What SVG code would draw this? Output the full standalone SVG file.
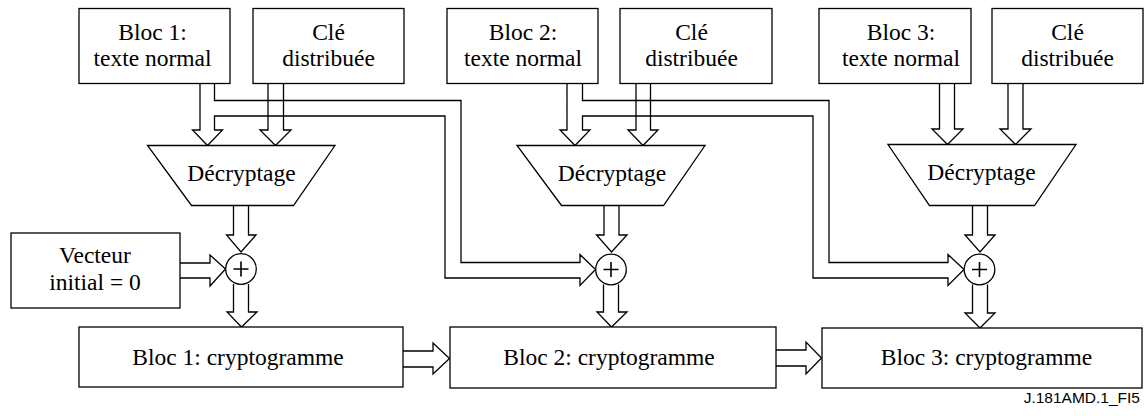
<svg xmlns="http://www.w3.org/2000/svg" width="1147" height="416" viewBox="0 0 1147 416">
<style>
.b{fill:#fff;stroke:#000;stroke-width:1.3}
.c{fill:none;stroke:#000;stroke-width:1.3;stroke-linejoin:miter}
.t{font-family:"Liberation Serif","Times New Roman",serif;font-size:23.5px;fill:#000;text-anchor:middle}
.p{stroke:#000;stroke-width:1.6;fill:none}
</style>
<rect width="1147" height="416" fill="#fff"/>
<g id="connectors">
<path class="c" d="M200,83.5V130H192.5L207.5,145.5L222.5,130H214.5V116H445V278H580V285.5L595.5,269.5L580,254.5V262.5H461V100.5H214.5V83.5"/>
<path class="c" d="M567,83.5V130H560L575,145.5L590,130H582.5V116H813V278H948V285.5L964,269.5L948,254.5V262.5H829V100.5H582.5V83.5"/>
<path class="c" d="M939.5,83.5V129H932L947.5,144.5L963,129H954.5V83.5"/>
<path class="c" d="M268,83.5V130H260L275.5,145.5L291,130H283.5V83.5"/>
<path class="c" d="M636,83.5V130H628L643,145.5L658,130H650.5V83.5"/>
<path class="c" d="M1008,83.5V129H1000L1015.5,144.5L1031,129H1023V83.5"/>
<path class="c" d="M233.5,205.5V235H226.5L241,252L256,235H248.5V205.5"/>
<path class="c" d="M604,205.5V235H596.5L611.5,252L627,235H619V205.5"/>
<path class="c" d="M972.5,205.5V235H965L980,252L995,235H987.5V205.5"/>
<path class="c" d="M233.5,284V312H227L241.5,327L257,312H248.5V284"/>
<path class="c" d="M603.5,284.5V312H597L611.5,327L627,312H618.5V284.5"/>
<path class="c" d="M972.5,284.5V313H965L980,328L995,313H987.5V284.5"/>
<path class="c" d="M180,263H210V255L225.5,269L210,286V278H180"/>
<path class="c" d="M403,351H433V343L449.5,358.5L433,374V367H403"/>
<path class="c" d="M776,350H806V342L821.5,358L806,374V366H776"/>
</g>
<g id="b1-texte"><rect class="b" x="79" y="8.5" width="151" height="75"/><text class="t" x="152.5" y="40">Bloc 1:</text><text class="t" x="152.5" y="66">texte normal</text></g>
<g id="b1-cle"><rect class="b" x="253" y="8.5" width="151" height="75"/><text class="t" x="328.5" y="40">Clé</text><text class="t" x="328.5" y="66">distribuée</text></g>
<g id="b2-texte"><rect class="b" x="447" y="8.5" width="151" height="75"/><text class="t" x="523" y="40">Bloc 2:</text><text class="t" x="523" y="66">texte normal</text></g>
<g id="b2-cle"><rect class="b" x="620" y="8.5" width="152" height="75"/><text class="t" x="691.5" y="40">Clé</text><text class="t" x="691.5" y="66">distribuée</text></g>
<g id="b3-texte"><rect class="b" x="819" y="8.5" width="152" height="75"/><text class="t" x="901" y="40">Bloc 3:</text><text class="t" x="901" y="66">texte normal</text></g>
<g id="b3-cle"><rect class="b" x="992" y="8.5" width="151" height="75"/><text class="t" x="1067.5" y="40">Clé</text><text class="t" x="1067.5" y="66">distribuée</text></g>
<g id="dec1"><polygon class="b" points="147.5,145.5 335,145.5 293.5,205.5 191.5,205.5"/><text class="t" x="241.5" y="180.5">Décryptage</text></g>
<g id="dec2"><polygon class="b" points="517,145.5 705,145.5 663.5,205.5 561.5,205.5"/><text class="t" x="612" y="180.5">Décryptage</text></g>
<g id="dec3"><polygon class="b" points="888,144.5 1076,144.5 1034.5,205.5 929.5,205.5"/><text class="t" x="981.5" y="179.5">Décryptage</text></g>
<g id="vecteur"><rect class="b" x="11" y="233" width="169" height="75"/><text class="t" x="95" y="262.5">Vecteur</text><text class="t" x="95" y="290">initial = 0</text></g>
<g id="xor1"><circle class="b" cx="241" cy="269" r="15.3"/><path class="p" d="M233.5,269H248.5M241,261.5V276.5"/></g>
<g id="xor2"><circle class="b" cx="611" cy="269.5" r="15.3"/><path class="p" d="M603.5,269.5H618.5M611,262V277"/></g>
<g id="xor3"><circle class="b" cx="979.5" cy="269.5" r="15.3"/><path class="p" d="M972,269.5H987M979.5,262V277"/></g>
<g id="b1-crypto"><rect class="b" x="79" y="327" width="324" height="60"/><text class="t" x="238" y="365">Bloc 1: cryptogramme</text></g>
<g id="b2-crypto"><rect class="b" x="450" y="327" width="326" height="61"/><text class="t" x="609" y="365">Bloc 2: cryptogramme</text></g>
<g id="b3-crypto"><rect class="b" x="822" y="328" width="320" height="60"/><text class="t" x="986.5" y="365">Bloc 3: cryptogramme</text></g>
<text x="1140" y="402.5" style="font-family:'Liberation Sans',Arial,sans-serif;font-size:15.5px;text-anchor:end">J.181AMD.1_FI5</text>
</svg>
